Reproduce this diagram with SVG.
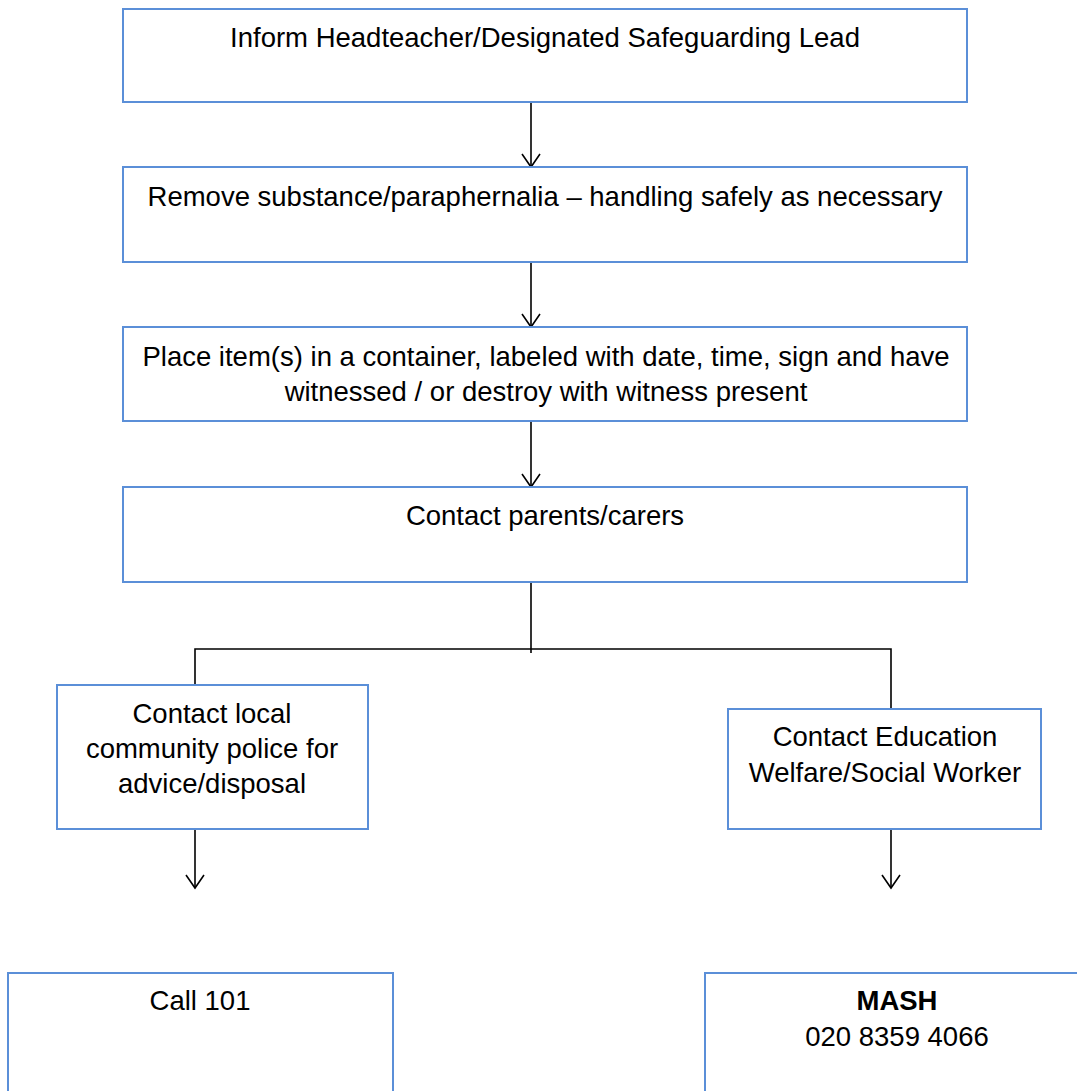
<svg xmlns="http://www.w3.org/2000/svg" width="1077" height="1091" viewBox="0 0 1077 1091">
<style>
.box{fill:#ffffff;stroke:#5b8fd8;stroke-width:2}
.t{font-family:"Liberation Sans",Arial,sans-serif;font-size:27.5px;fill:#000;text-anchor:middle}
.b{font-weight:bold}
.c{fill:none;stroke:#000;stroke-width:1.6}
</style>
<defs>
<marker id="arr" markerUnits="userSpaceOnUse" markerWidth="30" markerHeight="30" refX="0" refY="0" orient="auto" overflow="visible">
<path d="M-13,-9 L0,0 L-13,9" fill="none" stroke="#000" stroke-width="1.6"/>
</marker>
</defs>
<rect width="1077" height="1091" fill="#ffffff"/>
<g id="connectors">
<line class="c" x1="531" y1="102" x2="531" y2="167" marker-end="url(#arr)"/>
<line class="c" x1="531" y1="262" x2="531" y2="327" marker-end="url(#arr)"/>
<line class="c" x1="531" y1="421" x2="531" y2="487" marker-end="url(#arr)"/>
<line class="c" x1="531" y1="582" x2="531" y2="653"/>
<polyline class="c" points="195,685 195,649 891,649 891,709"/>
<line class="c" x1="195" y1="829" x2="195" y2="888" marker-end="url(#arr)"/>
<line class="c" x1="891" y1="829" x2="891" y2="888" marker-end="url(#arr)"/>
</g>
<g id="n1">
<rect class="box" x="123" y="9" width="844" height="93"/>
<text class="t" x="545" y="47">Inform Headteacher/Designated Safeguarding Lead</text>
</g>
<g id="n2">
<rect class="box" x="123" y="167" width="844" height="95"/>
<text class="t" x="545" y="206">Remove substance/paraphernalia – handling safely as necessary</text>
</g>
<g id="n3">
<rect class="box" x="123" y="327" width="844" height="94"/>
<text class="t" x="546" y="366">Place item(s) in a container, labeled with date, time, sign and have</text>
<text class="t" x="546" y="401">witnessed / or destroy with witness present</text>
</g>
<g id="n4">
<rect class="box" x="123" y="487" width="844" height="95"/>
<text class="t" x="545" y="525">Contact parents/carers</text>
</g>
<g id="n5">
<rect class="box" x="57" y="685" width="311" height="144"/>
<text class="t" x="212" y="723">Contact local</text>
<text class="t" x="212" y="758">community police for</text>
<text class="t" x="212" y="793">advice/disposal</text>
</g>
<g id="n6">
<rect class="box" x="728" y="709" width="313" height="120"/>
<text class="t" x="885" y="746">Contact Education</text>
<text class="t" x="885" y="782">Welfare/Social Worker</text>
</g>
<g id="n7">
<rect class="box" x="8" y="973" width="385" height="140"/>
<text class="t" x="200" y="1010">Call 101</text>
</g>
<g id="n8">
<rect class="box" x="705" y="973" width="400" height="140"/>
<text class="t b" x="897" y="1010">MASH</text>
<text class="t" x="897" y="1046">020 8359 4066</text>
</g>
</svg>
